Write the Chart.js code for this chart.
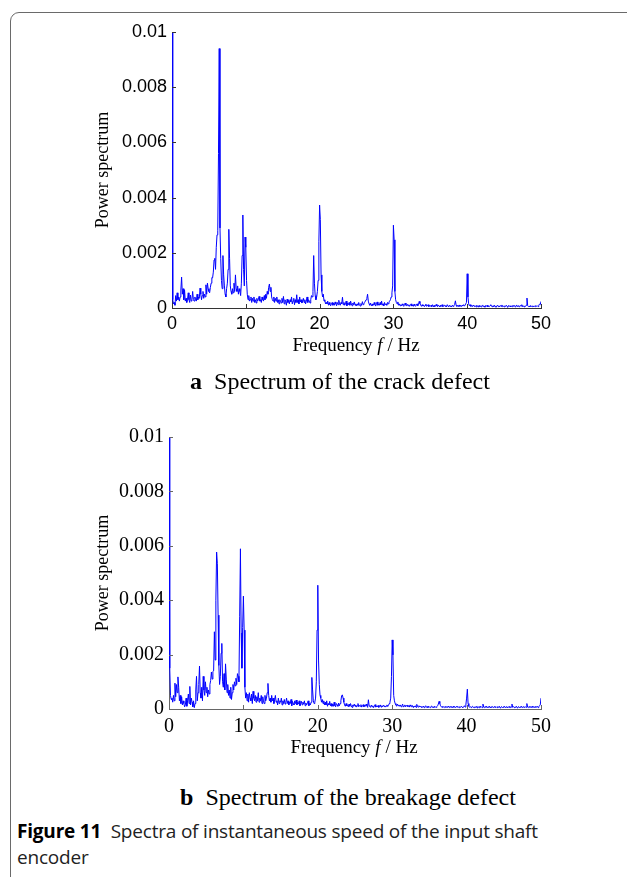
<!DOCTYPE html>
<html>
<head>
<meta charset="utf-8">
<script src="https://cdn.jsdelivr.net/npm/chart.js@4"></script>
<style>
  html, body { margin: 0; padding: 0; background: #fff; }
  #page { position: relative; width: 627px; height: 877px; overflow: hidden; background: #fff; }
  .frame { position: absolute; left: 10px; top: 12px; width: 700px; height: 900px;
           border: 1px solid #6a6a6a; border-radius: 9px; }
  .plot { position: absolute; }
  .xtitle { position: absolute; font-family: "Liberation Serif", serif; font-size: 19px; color: #000;
            white-space: nowrap; transform: translateX(-50%); }
  .sub { position: absolute; font-family: "Liberation Serif", serif; font-size: 24px; color: #000;
         white-space: nowrap; transform: translateX(-50%); }
  .sub b { margin-right: 6px; }
  .caption { position: absolute; left: 17px; top: 818px; font-family: "Open Sans", sans-serif;
             font-size: 19px; line-height: 26px; color: #222; letter-spacing: -0.2px; }
</style>
</head>
<body>
<div id="page">
  <div class="frame"></div>
  <div class="plot" style="left:90px; top:15px; width:470px; height:330px;"><canvas id="chartA"></canvas></div>
  <div class="xtitle" style="left:356px; top:334px;">Frequency <i>f</i> / Hz</div>
  <div class="sub" style="left:340px; top:368px;"><b>a</b> Spectrum of the crack defect</div>

  <div class="plot" style="left:90px; top:420px; width:470px; height:326px;"><canvas id="chartB"></canvas></div>
  <div class="xtitle" style="left:354px; top:736px;">Frequency <i>f</i> / Hz</div>
  <div class="sub" style="left:348px; top:784px;"><b>b</b> Spectrum of the breakage defect</div>

  <div class="caption"><b style="color:#000">Figure 11</b>&nbsp; Spectra of instantaneous speed of the input shaft<br>encoder</div>
</div>

<script>
// spectra sampled every 0.1 Hz from 0 to 50 Hz, values in units of 1e-4
const freqStep = 0.1;

const crackSpectrum = [
  100, 3, 1.5, 2, 1, 4.5, 2.5, 5.5, 3, 4,
  2.5, 4, 6.5, 11.2, 5, 7, 3, 6.6, 2.5, 3.5,
  2, 3, 5.5, 3, 2, 4.7, 2.5, 3, 6, 3,
  2.5, 4, 3, 2.5, 5, 3, 4, 3.5, 7.2, 5,
  3, 4.5, 6, 3.5, 5, 4, 8.4, 5, 9, 7,
  6, 5.5, 7.5, 9, 11, 10.9, 13, 17.4, 18, 14,
  22, 26.5, 28, 56, 94, 29, 18, 10, 7, 19,
  12, 8, 5, 4, 7, 9, 14, 28.5, 18, 8,
  6, 5, 7, 5.5, 9, 6, 12, 7, 6, 8,
  5, 7, 6, 4.5, 9, 19, 33.7, 14, 8, 25.7,
  22, 10, 5, 3, 4.5, 2.5, 3, 4, 2, 3.5,
  2.5, 4, 2, 3, 1.8, 3.5, 2.5, 3, 4.2, 2.5,
  3, 2, 4, 3, 2.5, 4.5, 3, 5, 3.5, 6,
  5, 7.5, 8.7, 6, 7.5, 4, 3, 2.5, 4, 2,
  3.5, 2.5, 4, 2, 3, 1.5, 3, 2.5, 1.8, 3.5,
  2, 4.2, 1.5, 3, 2.5, 1, 3.2, 2, 2.8, 1.5,
  3, 2.2, 4, 1.5, 2.5, 3.5, 1.2, 3, 2, 4.8,
  2, 3, 1.5, 4, 2.2, 3, 1.8, 2.5, 3.5, 2,
  3, 1.5, 2.5, 4, 2, 3, 2.5, 1.8, 3, 4.5,
  4, 6, 19, 9, 4.5, 3, 4, 6, 10, 24,
  37.3, 32, 12, 6, 4, 5, 2.5, 3, 1.5, 2,
  1.5, 2.5, 1, 2, 1.2, 0.8, 1.5, 2, 1, 1.8,
  1, 2.2, 1.5, 0.8, 2, 1.2, 2.8, 1.5, 1, 2,
  1.5, 3.9, 1.2, 2, 1, 1.5, 2.5, 0.8, 1.8, 1.2,
  2, 1, 2.5, 1.5, 0.8, 1.8, 1.2, 2.2, 1, 1.5,
  0.8, 1.5, 1, 2, 1.2, 0.7, 1.6, 1, 2.3, 1.2,
  1.5, 2, 2.5, 3, 3.5, 5, 2.5, 1.5, 1, 1.8,
  1.2, 0.8, 1.5, 1, 2, 1.2, 0.7, 1.5, 2.2, 1,
  1.5, 1, 2, 1.2, 2.5, 1, 1.5, 0.8, 2, 1.2,
  1.5, 1, 2, 1.5, 2.2, 2.5, 3, 4, 5.5, 8,
  30, 24.7, 6, 3, 2, 1.5, 2.2, 1, 1.5, 0.8,
  1.2, 0.8, 1.5, 1, 0.6, 1.2, 1.8, 1, 0.7, 1.3,
  0.8, 1.2, 0.6, 1, 1.5, 0.7, 1.1, 0.6, 1.4, 0.9,
  0.6, 1, 1.5, 0.8, 1.3, 2.4, 1.6, 1, 0.6, 1.2,
  0.7, 1.1, 0.5, 0.9, 1.4, 0.6, 0.8, 1.2, 0.5, 0.9,
  0.6, 1, 0.5, 1.2, 0.8, 0.4, 1, 0.6, 1.3, 0.7,
  0.5, 1.1, 0.7, 0.4, 1, 0.6, 1.2, 0.5, 0.8, 1,
  0.6, 0.9, 0.4, 1.2, 0.7, 0.5, 1, 0.6, 0.8, 0.4,
  1, 0.6, 0.8, 1.3, 2.6, 1, 0.6, 0.9, 0.5, 1.1,
  0.6, 0.9, 0.5, 1, 0.7, 1.2, 0.8, 1, 1.5, 2,
  12.4, 4, 1.5, 0.8, 1.2, 0.6, 0.9, 0.5, 1, 0.7,
  0.5, 0.8, 0.4, 1, 0.6, 0.3, 0.9, 0.5, 0.7, 0.4,
  0.8, 1.1, 0.5, 0.7, 0.3, 0.9, 0.6, 1, 0.4, 0.7,
  0.5, 0.9, 1.2, 0.6, 0.4, 0.8, 0.5, 1, 0.6, 0.3,
  0.7, 1, 0.5, 0.8, 0.4, 0.9, 0.6, 1.1, 0.5, 0.7,
  0.4, 0.8, 0.6, 1, 0.5, 0.3, 0.9, 0.6, 0.8, 0.4,
  0.7, 0.5, 1, 0.6, 0.9, 0.4, 0.7, 1.1, 0.5, 0.8,
  0.6, 0.4, 0.9, 0.7, 1.2, 0.5, 0.8, 0.4, 0.7, 0.6,
  1, 3.6, 0.8, 0.5, 0.7, 0.4, 0.9, 0.6, 0.5, 0.8,
  0.4, 0.7, 0.5, 0.9, 0.6, 0.8, 0.5, 1, 1.4, 1.2,
  2.4
];

const breakageSpectrum = [
  100, 15, 5, 3.5, 4, 2.5, 5, 3, 9.5, 4.5,
  9, 6, 11.8, 8, 3, 5, 2, 4.5, 1.5, 3,
  2, 0.8, 1.5, 4, 1, 3, 5.5, 2, 8.3, 1.5,
  4, 2.5, 0.8, 3, 0.5, 2, 7, 12, 3, 6,
  9, 15.8, 6, 4, 8, 3, 12, 7, 5, 10,
  6, 8, 4.5, 7, 5.5, 9, 10.5, 13.6, 11, 13.8,
  14, 28.4, 18, 40, 57.7, 53.4, 34.5, 16, 9, 12,
  20.5, 24.1, 10, 8, 13, 7, 16.6, 11, 6, 9,
  5, 7, 4, 8, 3.5, 6, 9, 7, 10, 8.5,
  11.3, 9, 13, 12, 10, 33.9, 58.9, 28, 15, 30,
  41.5, 29, 8, 4, 6, 3, 5.5, 2.5, 6, 4,
  3, 5.5, 2, 6.5, 4, 3, 5, 2.5, 4.5, 3,
  6, 2.5, 4, 3, 5, 2, 4.5, 3, 2, 5,
  3, 4, 6, 9.4, 5, 3, 4, 2.5, 5, 3,
  4, 2, 3.5, 5, 2.5, 3, 1.5, 4, 2, 3,
  2.5, 4, 1.5, 3, 2, 3.5, 1.8, 2.5, 4, 2,
  3, 1.5, 2.5, 2, 3.5, 1.2, 2.8, 2, 1.5, 3,
  2, 3.3, 1.5, 2.5, 1.8, 3, 1.2, 2, 2.8, 1.5,
  2.5, 1.8, 3, 1.2, 2.2, 1.5, 2, 3, 1.2, 2,
  1.5, 2.5, 11.6, 7, 3, 2, 2.5, 4, 10, 29,
  45.5, 18, 9, 5, 4, 2.5, 3.5, 2, 3, 1.5,
  2.5, 1.5, 3, 1, 2, 1.5, 2.8, 1.2, 2, 1,
  1.8, 1, 2.5, 1.2, 0.8, 2, 1.5, 1, 2.2, 1.2,
  2, 3, 4.8, 5.2, 4, 2.5, 1.5, 1, 2, 1.2,
  1.5, 0.8, 1.8, 1, 2, 1.2, 0.6, 1.5, 1, 1.8,
  1, 1.5, 0.7, 1.2, 2, 0.8, 1.3, 1, 1.6, 0.7,
  1.2, 1.6, 0.8, 1.4, 1, 1.8, 1.2, 0.6, 3.4, 1.2,
  1, 0.6, 1.4, 0.8, 1.2, 0.5, 1, 1.6, 0.7, 1.1,
  0.8, 1.3, 0.6, 1, 1.5, 0.7, 1.2, 0.8, 1.4, 0.9,
  1.2, 0.7, 1.1, 1.5, 0.9, 1.3, 2, 2.5, 4, 12,
  25.4, 19.9, 5, 3, 2, 1.5, 1, 1.8, 1.2, 1.5,
  1, 1.5, 0.8, 1.2, 1.8, 0.7, 1.1, 1.5, 0.8, 1.2,
  1.4, 0.9, 1.2, 0.7, 1.5, 1, 0.8, 1.3, 0.6, 1.1,
  0.8, 1.2, 0.6, 1.7, 1, 0.7, 1.2, 0.8, 1.1, 0.6,
  0.9, 0.6, 1.1, 0.5, 0.8, 1.2, 0.6, 0.9, 0.5, 1,
  0.7, 0.5, 0.9, 1.1, 0.6, 0.8, 0.5, 1, 0.7, 0.6,
  0.9, 1.2, 1.8, 2.8, 2, 1.2, 0.8, 0.6, 1, 0.7,
  0.5, 0.9, 0.6, 0.8, 0.5, 1, 0.7, 0.5, 0.9, 0.6,
  0.8, 0.5, 1, 0.6, 0.9, 0.5, 0.8, 1.1, 0.6, 0.7,
  0.5, 0.9, 0.6, 1, 0.7, 0.5, 0.8, 1.2, 0.7, 1.5,
  4, 7.3, 2, 1, 0.6, 0.9, 0.5, 0.8, 1, 0.6,
  0.5, 0.8, 0.6, 1, 0.4, 0.9, 0.7, 0.5, 1.1, 0.6,
  0.8, 0.5, 1.8, 0.7, 0.5, 0.9, 0.6, 1, 0.5, 0.8,
  0.6, 1, 0.4, 0.8, 0.6, 0.9, 0.5, 0.7, 1, 0.5,
  0.8, 0.5, 0.9, 0.6, 1, 0.4, 0.7, 0.9, 0.5, 0.8,
  0.6, 1, 0.5, 0.7, 0.9, 0.4, 0.8, 0.6, 1, 0.5,
  0.7, 1.8, 0.6, 0.9, 0.5, 0.8, 0.6, 1, 0.4, 0.7,
  0.9, 0.5, 0.8, 0.6, 1, 0.5, 0.7, 0.9, 0.5, 0.8,
  0.6, 2, 0.7, 0.5, 0.9, 0.6, 0.8, 0.5, 1, 0.6,
  0.8, 0.5, 0.9, 0.6, 0.7, 1, 0.5, 0.8, 1.2, 1.5,
  4
];

const xTicks = [0, 10, 20, 30, 40, 50];
const yTicks = [0, 0.002, 0.004, 0.006, 0.008, 0.01];

function toPoints(values) {
  return values.map((v, i) => ({ x: i * freqStep, y: v / 10000 }));
}

// small tick marks pointing into the plot, like the matlab default
const innerTicks = {
  id: 'innerTicks',
  afterDraw(chart, args, opts) {
    const { ctx, chartArea, scales } = chart;
    ctx.save();
    ctx.strokeStyle = opts.color;
    ctx.lineWidth = 1;
    ctx.beginPath();
    xTicks.forEach(t => {
      const px = Math.round(scales.x.getPixelForValue(t)) + 0.5;
      ctx.moveTo(px, chartArea.bottom);
      ctx.lineTo(px, chartArea.bottom - 4);
    });
    yTicks.forEach(t => {
      const py = Math.round(scales.y.getPixelForValue(t)) + 0.5;
      ctx.moveTo(chartArea.left, py);
      ctx.lineTo(chartArea.left + 4, py);
    });
    ctx.stroke();
    ctx.restore();
  }
};

function makeChart(id, values, o) {
  return new Chart(document.getElementById(id), {
    type: 'line',
    data: {
      datasets: [{
        data: toPoints(values),
        borderColor: '#0000ff',
        borderWidth: 1,
        pointRadius: 0,
        tension: 0,
        fill: false
      }]
    },
    options: {
      responsive: true,
      maintainAspectRatio: false,
      animation: false,
      layout: { padding: { top: o.padTop, right: 19, left: 0, bottom: 0 } },
      plugins: { legend: { display: false }, tooltip: { enabled: false }, innerTicks: { color: o.axisColor } },
      scales: {
        x: {
          type: 'linear', min: 0, max: 50,
          afterBuildTicks: s => { s.ticks = xTicks.map(v => ({ value: v })); },
          afterFit: s => { s.height = 37; },
          grid: { display: false, drawTicks: false },
          border: { display: true, color: o.axisColor, width: 1 },
          ticks: { color: '#000', padding: o.xPad, maxRotation: 0, font: { family: o.tickFont, size: o.tickSize } }
        },
        y: {
          min: 0, max: 0.01,
          afterBuildTicks: s => { s.ticks = yTicks.map(v => ({ value: v })); },
          afterFit: s => { s.width = o.yWidth; },
          grid: { display: false, drawTicks: false },
          border: { display: true, color: o.axisColor, width: 1 },
          ticks: {
            color: '#000', padding: 5,
            font: { family: o.tickFont, size: o.tickSize },
            callback: v => String(Number(v.toFixed(3)))
          },
          title: {
            display: true, text: 'Power spectrum', color: '#000', padding: { top: 2, bottom: 0 },
            font: { family: 'Liberation Serif', size: 18 }
          }
        }
      }
    },
    plugins: [innerTicks]
  });
}

makeChart('chartA', crackSpectrum, {
  padTop: 17, yWidth: 82, axisColor: '#333', tickFont: 'Liberation Sans', tickSize: 18, xPad: 5
});
makeChart('chartB', breakageSpectrum, {
  padTop: 16, yWidth: 79, axisColor: '#666', tickFont: 'Liberation Serif', tickSize: 20, xPad: 6
});
</script>
</body>
</html>
